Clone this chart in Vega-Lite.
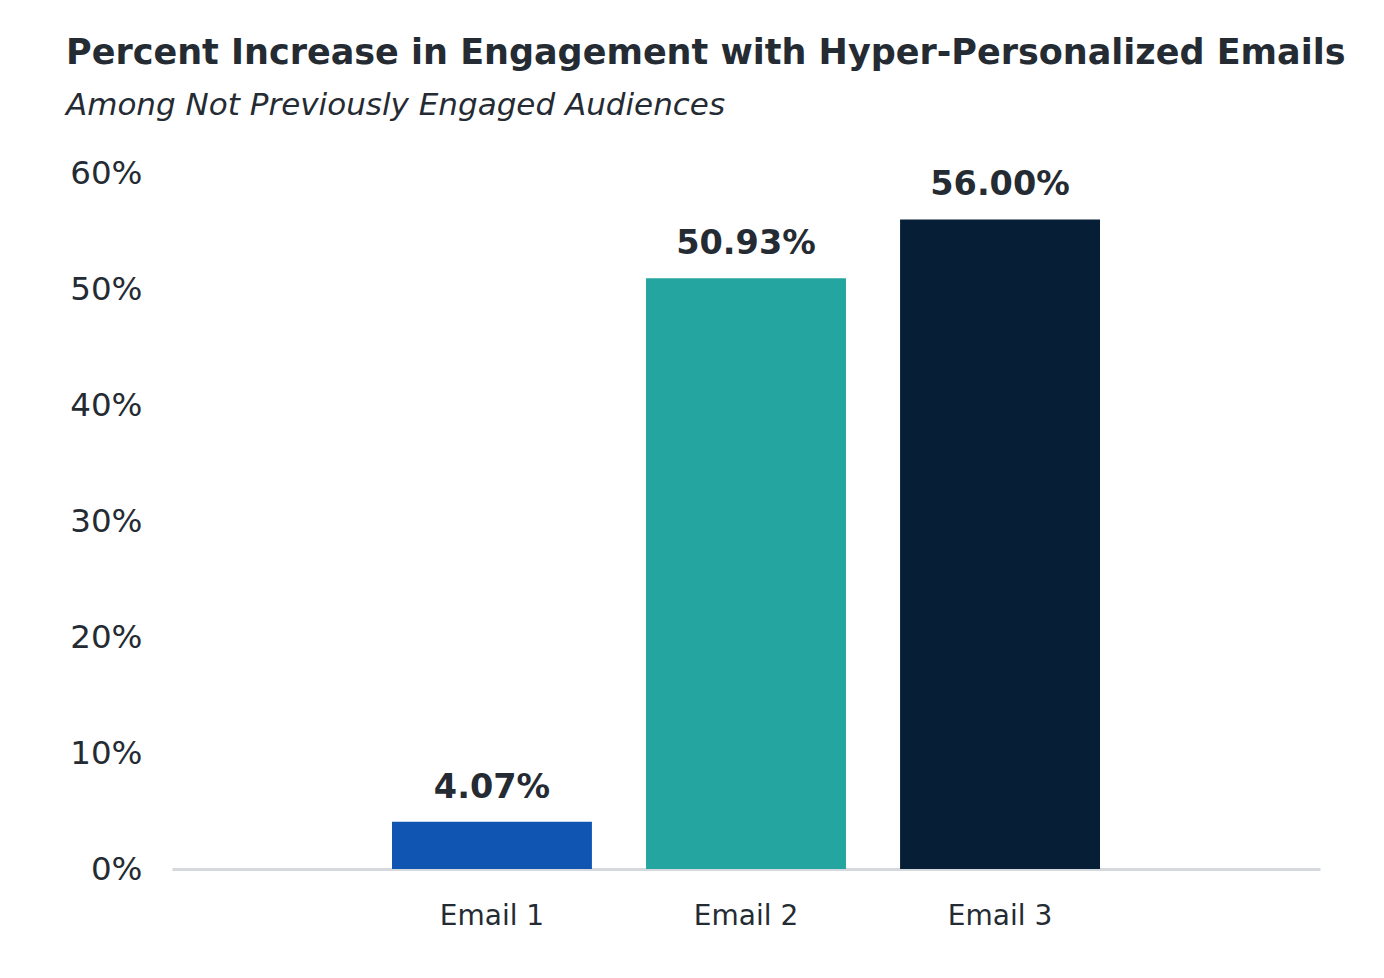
{
  "$schema": "https://vega.github.io/schema/vega-lite/v6.json",
  "autosize": "none",
  "width": 1148,
  "height": 696,
  "padding": {"left": 172, "top": 173, "right": 64, "bottom": 109},
  "background": "white",
  "title": {
    "text": "Percent Increase in Engagement with Hyper-Personalized Emails",
    "subtitle": "Among Not Previously Engaged Audiences",
    "anchor": "start",
    "frame": "group",
    "dx": -106,
    "offset": 36,
    "font": "DejaVu Sans",
    "fontSize": 35,
    "fontWeight": "bold",
    "color": "#252b33",
    "subtitleFont": "DejaVu Sans",
    "subtitleFontSize": 31,
    "subtitleFontStyle": "italic",
    "subtitleColor": "#252b33",
    "subtitlePadding": 20
  },
  "config": {
    "view": {"stroke": null},
    "font": "DejaVu Sans"
  },
  "data": {
    "values": [
      {"email": "Email 1", "increase": 0.0407},
      {"email": "Email 2", "increase": 0.5093},
      {"email": "Email 3", "increase": 0.56}
    ]
  },
  "encoding": {
    "x": {
      "field": "email",
      "type": "nominal",
      "sort": null,
      "title": null,
      "scale": {"paddingInner": 0.213, "paddingOuter": 0.866},
      "axis": {
        "labelAngle": 0,
        "labelFontSize": 28,
        "labelColor": "#252b33",
        "labelPadding": 33,
        "ticks": false,
        "domainColor": "#d5d8dc",
        "domainWidth": 3
      }
    },
    "y": {
      "field": "increase",
      "type": "quantitative",
      "title": null,
      "scale": {"domain": [0, 0.6]},
      "axis": {
        "values": [0, 0.1, 0.2, 0.3, 0.4, 0.5, 0.6],
        "format": ".0%",
        "grid": false,
        "domain": false,
        "ticks": false,
        "labelFontSize": 32.5,
        "labelColor": "#252b33",
        "labelPadding": 30
      }
    }
  },
  "layer": [
    {
      "mark": {"type": "bar"},
      "encoding": {
        "color": {
          "field": "email",
          "type": "nominal",
          "legend": null,
          "scale": {
            "domain": ["Email 1", "Email 2", "Email 3"],
            "range": ["#1155b3", "#24a59f", "#061f37"]
          }
        }
      }
    },
    {
      "mark": {
        "type": "text",
        "dy": -24,
        "baseline": "alphabetic",
        "fontSize": 33.5,
        "fontWeight": "bold",
        "color": "#252b33"
      },
      "encoding": {
        "text": {"field": "increase", "type": "quantitative", "format": ".2%"}
      }
    }
  ]
}
